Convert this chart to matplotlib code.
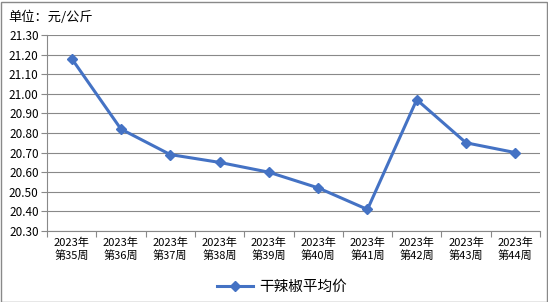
import matplotlib.pyplot as plt
import matplotlib.patches as patches
import numpy as np

plt.rcParams['font.family'] = ['Noto Sans CJK SC', 'DejaVu Sans']

weeks = ['2023年\n第35周', '2023年\n第36周', '2023年\n第37周', '2023年\n第38周',
         '2023年\n第39周', '2023年\n第40周', '2023年\n第41周', '2023年\n第42周',
         '2023年\n第43周', '2023年\n第44周']
prices = [21.18, 20.82, 20.69, 20.65, 20.60, 20.52, 20.41, 20.97, 20.75, 20.70]
yticks = [20.30, 20.40, 20.50, 20.60, 20.70, 20.80, 20.90, 21.00, 21.10, 21.20, 21.30]

fig = plt.figure(figsize=(5.48, 3.02), dpi=100)
ax = fig.add_axes([47 / 548, 1 - 231 / 302, 493 / 548, 196 / 302])

grey = '#898989'
x = np.arange(len(weeks))
ax.plot(x, prices, color='#4472C4', linewidth=2.2, marker='D', markersize=5.5,
        label='干辣椒平均价')

ax.set_xlim(-0.5, len(weeks) - 0.5)
ax.set_ylim(20.30, 21.30)
ax.set_yticks(yticks)
ax.set_yticklabels(['%.2f' % v for v in yticks], fontsize=8.5)
ax.set_xticks(x)
ax.set_xticklabels(weeks, fontsize=8, linespacing=1.25)
ax.set_xticks(np.arange(len(weeks) + 1) - 0.5, minor=True)
ax.tick_params(axis='x', which='major', length=0, pad=5)
ax.tick_params(axis='x', which='minor', length=4, color=grey, width=0.8)
ax.tick_params(axis='y', length=4, color=grey, width=0.8, pad=2)
ax.yaxis.grid(True, color=grey, linewidth=0.8)
ax.set_axisbelow(True)
for s in ['top', 'right']:
    ax.spines[s].set_visible(False)
for s in ['left', 'bottom']:
    ax.spines[s].set_color(grey)
    ax.spines[s].set_linewidth(0.8)

fig.text(8 / 548, 1 - 17 / 302, '单位：元/公斤', fontsize=9.5, va='center')

leg = fig.legend(loc='center', bbox_to_anchor=(282 / 548, 1 - 287 / 302),
                 frameon=False, fontsize=10.5, handlelength=2.5, handletextpad=0.4)

fig.patches.append(patches.Rectangle((0.5 / 548, 0.5 / 302), 546 / 548, 300 / 302,
                                     transform=fig.transFigure, fill=False,
                                     edgecolor=grey, linewidth=1))

fig.savefig('out.png', dpi=100)
